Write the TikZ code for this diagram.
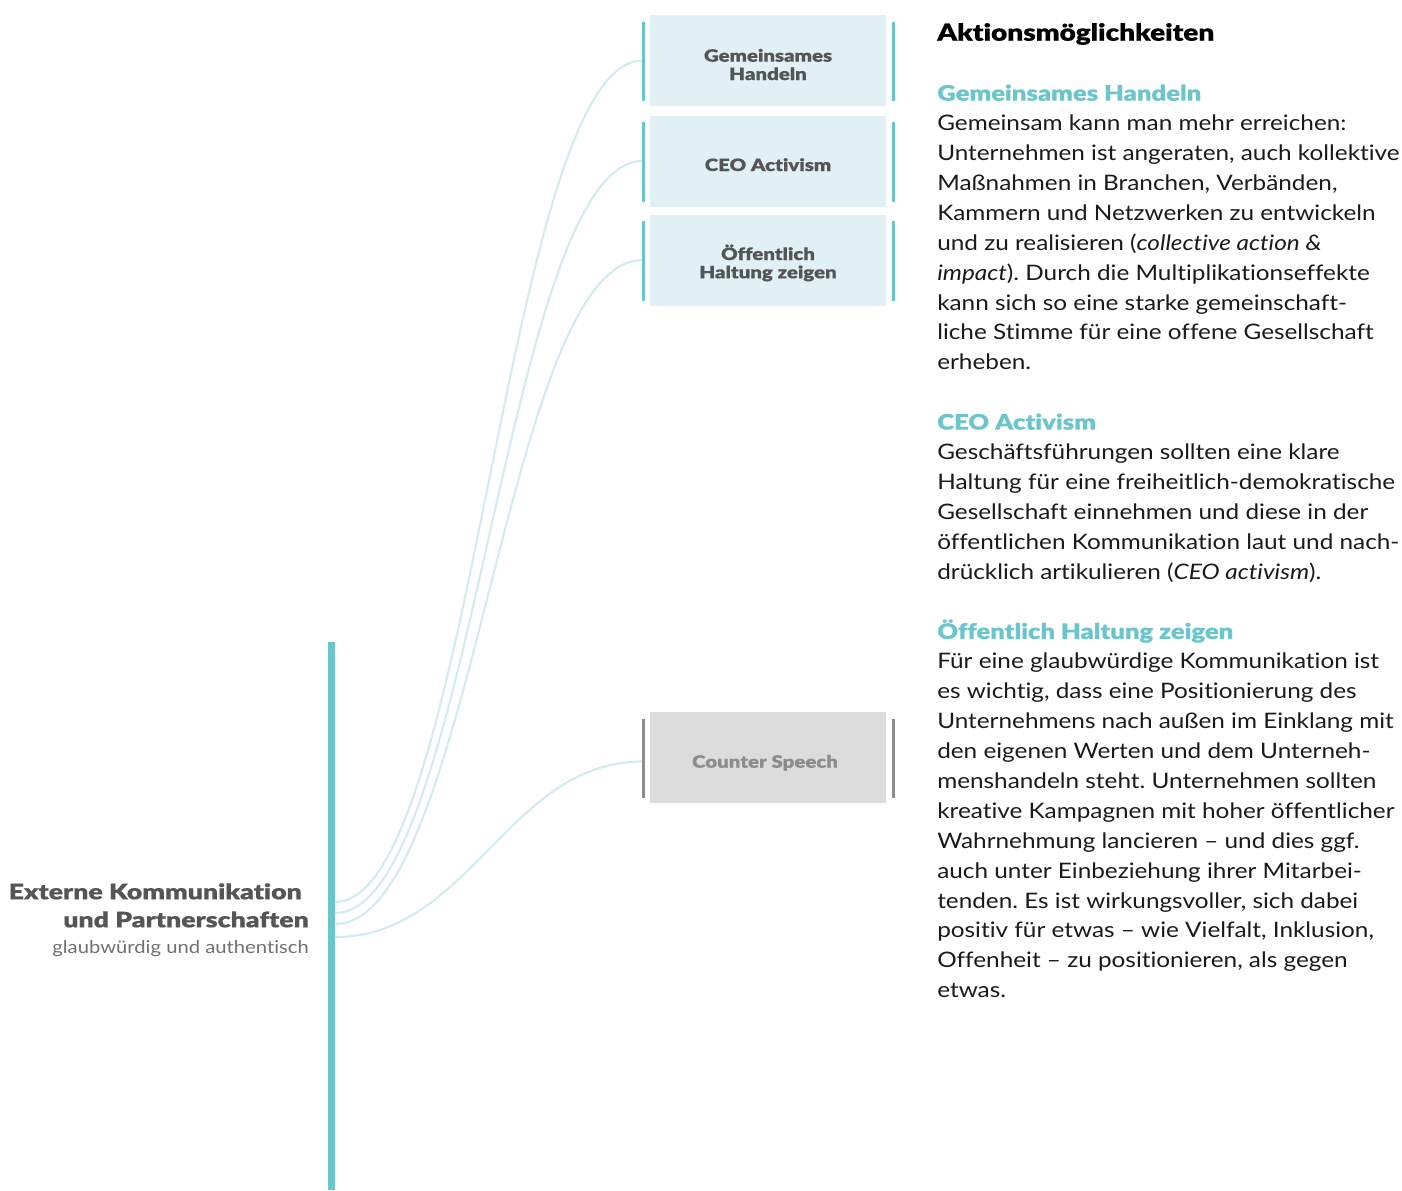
\documentclass[tikz,border=0pt]{standalone}
\usepackage{fontspec}
\setmainfont{Lato}[FakeStretch=1.14, Ligatures=NoCommon]
\newfontfamily\blackfont{Lato Black}[FakeStretch=1.2, FakeBold=0.4, Ligatures=NoCommon]
\newfontfamily\titlefont{Lato Black}[FakeStretch=1.25, FakeBold=0.4, Ligatures=NoCommon]
\usetikzlibrary{calc}
\frenchspacing

\definecolor{accent}{HTML}{6CC5CB}
\definecolor{boxfill}{HTML}{E1F0F4}
\definecolor{greyfill}{HTML}{DCDCDC}
\definecolor{greyline}{HTML}{8C8C8C}
\definecolor{labelgrey}{HTML}{555555}
\definecolor{captiongrey}{HTML}{707070}
\definecolor{linkcol}{HTML}{D3EBEE}
\definecolor{bodycol}{HTML}{1A1A1A}

% one line of running text on the right, on a fixed baseline grid
\newcommand\tline[2]{\node[bodytext] (tl#1) at (937,{100.7+29.9*#1}) {#2};}

\begin{document}
\begin{tikzpicture}[x=0.75pt,y=-0.75pt,
  actionbox/.style={fill=boxfill, draw=none, minimum width=177pt, minimum height=68.25pt,
    inner sep=0pt},
  greybox/.style={actionbox, fill=greyfill},
  boxlabel/.style={anchor=base, inner sep=0pt, text=labelgrey,
    font=\blackfont\fontsize{12.75}{14.25}\selectfont},
  greylabel/.style={boxlabel, text=greyline},
  sidebar/.style={draw=accent, line width=2.25pt},
  greybar/.style={draw=greyline, line width=2.25pt},
  link/.style={draw=linkcol, line width=1.6pt},
  bodytext/.style={anchor=base west, inner sep=0pt, text=bodycol,
    font=\fontsize{16}{22.4}\selectfont},
  subhead/.style={anchor=base west, inner sep=0pt, text=accent,
    font=\blackfont\fontsize{16}{22.4}\selectfont},
  titletext/.style={anchor=base east, inner sep=0pt, text=labelgrey,
    font=\titlefont\fontsize{16}{21}\selectfont},
]
\useasboundingbox (0,0) rectangle (1402,1190);

% vertical spine
\node[fill=accent, minimum width=5.25pt, minimum height=411pt, inner sep=0pt, anchor=north west]
  (spine) at (328,642) {};

% title on the left of the spine
\node[titletext] (title1) at (302,899.3) {Externe Kommunikation};
\node[titletext] (title2) at (309,927.3) {und Partnerschaften};
\node[anchor=base east, inner sep=0pt, text=captiongrey, font=\fontsize{13.3}{16}\selectfont]
  (caption) at (309,953.3) {glaubwürdig und authentisch};

% action boxes
\node[actionbox] (b1) at (768,60.5) {};
\node[actionbox] (b2) at (768,161) {};
\node[actionbox] (b3) at (768,260) {};
\node[greybox]   (b4) at (768,757.5) {};

% box labels
\node[boxlabel] (b1t1) at (768,61.7) {Gemeinsames};
\node[boxlabel] (b1t2) at (768,80) {Handeln};
\node[boxlabel] (b2t1) at (768,171) {CEO Activism};
\node[boxlabel] (b3t1) at (768,260) {Öffentlich};
\node[boxlabel] (b3t2) at (768,278.3) {Haltung zeigen};
\node[greylabel] (b4t1) at (765,767.7) {Counter Speech};

% end points of the links on the spine and at the boxes
\coordinate (s1) at (335,902);
\coordinate (s2) at (335,913);
\coordinate (s3) at (335,924);
\coordinate (s4) at (335,937);
\coordinate (e1) at ($(b1.west)+(-7,0)$);
\coordinate (e2) at ($(b2.west)+(-7,0)$);
\coordinate (e3) at ($(b3.west)+(-7,0)$);
\coordinate (e4) at ($(b4.west)+(-7,4)$);

% links
\draw[link] (s1) .. controls +(138,0) and +(-138,0) .. (e1);
\draw[link] (s2) .. controls +(138,0) and +(-138,0) .. (e2);
\draw[link] (s3) .. controls +(138,0) and +(-138,0) .. (e3);
\draw[link] (s4) .. controls +(135,0) and +(-135,0) .. (e4);

% bars beside the boxes
\foreach \b in {b1,b2,b3}{
  \draw[sidebar] ($(\b.north west)+(-6.5,7)$) -- ($(\b.south west)+(-6.5,-5)$);
  \draw[sidebar] ($(\b.north east)+(7.5,7)$) -- ($(\b.south east)+(7.5,-5)$);
}
\draw[greybar] ($(b4.north west)+(-6.5,7)$) -- ($(b4.south west)+(-6.5,-5)$);
\draw[greybar] ($(b4.north east)+(7.5,7)$) -- ($(b4.south east)+(7.5,-5)$);

% explanatory text
\node[anchor=base west, inner sep=0pt, text=black, font=\blackfont\fontsize{17.5}{22}\selectfont]
  (heading) at (937,40.7) {Aktionsmöglichkeiten};

\node[subhead] (h1) at (937,100.7) {Gemeinsames Handeln};
\tline{1}{Gemeinsam kann man mehr erreichen:}
\tline{2}{Unternehmen ist angeraten, auch kollektive}
\tline{3}{Maßnahmen in Branchen, Verbänden,}
\tline{4}{Kammern und Netzwerken zu entwickeln}
\tline{5}{und zu realisieren (\textit{collective action \&}}
\tline{6}{\textit{impact}). Durch die Multiplikationseffekte}
\tline{7}{kann sich so eine starke gemeinschaft-}
\tline{8}{liche Stimme für eine offene Gesellschaft}
\tline{9}{erheben.}

\node[subhead] (h2) at (937,{100.7+29.9*11}) {CEO Activism};
\tline{12}{Geschäftsführungen sollten eine klare}
\tline{13}{Haltung für eine freiheitlich-demokratische}
\tline{14}{Gesellschaft einnehmen und diese in der}
\tline{15}{öffentlichen Kommunikation laut und nach-}
\tline{16}{drücklich artikulieren (\textit{CEO activism}).}

\node[subhead] (h3) at (937,{100.7+29.9*18}) {Öffentlich Haltung zeigen};
\tline{19}{Für eine glaubwürdige Kommunikation ist}
\tline{20}{es wichtig, dass eine Positionierung des}
\tline{21}{Unternehmens nach außen im Einklang mit}
\tline{22}{den eigenen Werten und dem Unterneh-}
\tline{23}{menshandeln steht. Unternehmen sollten}
\tline{24}{kreative Kampagnen mit hoher öffentlicher}
\tline{25}{Wahrnehmung lancieren – und dies ggf.}
\tline{26}{auch unter Einbeziehung ihrer Mitarbei-}
\tline{27}{tenden. Es ist wirkungsvoller, sich dabei}
\tline{28}{positiv für etwas – wie Vielfalt, Inklusion,}
\tline{29}{Offenheit – zu positionieren, als gegen}
\tline{30}{etwas.}
\end{tikzpicture}
\end{document}
